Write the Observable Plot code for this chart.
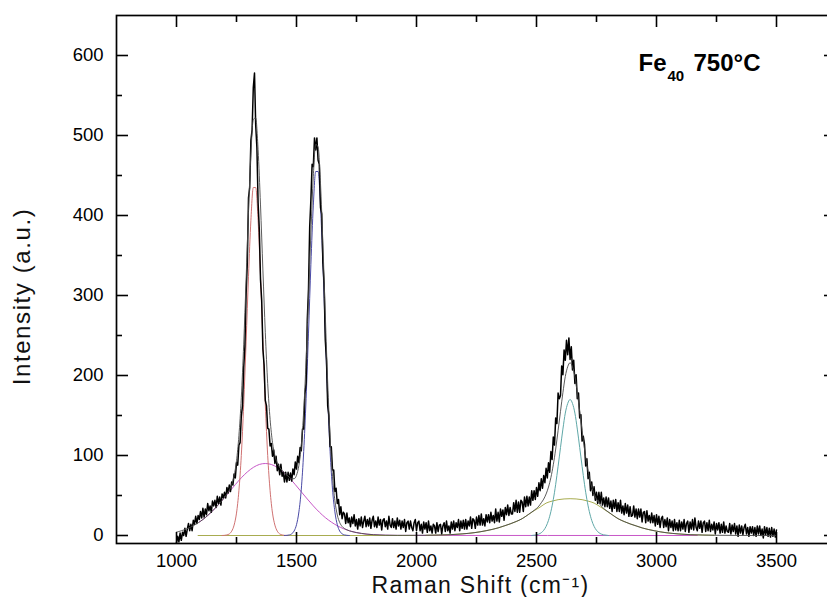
<!DOCTYPE html>
<html><head><meta charset="utf-8">
<script src="https://cdn.jsdelivr.net/npm/d3@7"></script>
<script src="https://cdn.jsdelivr.net/npm/@observablehq/plot@0.6"></script>
<style>
html,body{margin:0;padding:0;background:#fff;overflow:hidden;}
</style>
</head><body><div id="chart"></div>
<script>
// ---- tick values ----
const xMajorTicks = [1000, 1500, 2000, 2500, 3000, 3500];
const xMinorTicks = [1250, 1750, 2250, 2750, 3250];
const yMajorTicks = [0, 100, 200, 300, 400, 500, 600];
const yMinorTicks = [50, 150, 250, 350, 450, 550];

// ---- measured spectrum: 1000..3500 cm-1, one value every 5 cm-1 ----
const shiftStart = 1000, shiftStep = 5;
const intensity = [
  -9,-1,-8,3,-6,4,0,9,-1,8,15,6,14,6,19,14,24,15,25,20,            // 1000
  30,22,34,23,33,26,40,31,37,29,43,37,44,35,49,40,48,38,52,47,     // 1100
  54,47,60,53,63,55,67,63,77,72,91,88,113,116,149,162,210,236,302,340, // 1200
  422,435,494,507,560,578,513,485,416,383,320,294,233,213,169,162,134,133,112,115, // 1300
  99,107,90,99,81,89,76,89,74,79,67,79,67,79,69,78,68,83,76,92,    // 1400
  83,99,91,110,106,133,133,177,190,270,308,386,420,464,461,497,482,497,469,464, // 1500
  410,402,341,315,244,219,162,150,111,111,82,82,55,59,40,45,26,36,21,29, // 1600
  27,15,28,16,22,11,23,15,26,12,20,8,21,12,23,10,18,24,11,20,      // 1700
  12,22,9,19,24,11,18,10,23,13,20,7,19,21,11,18,8,24,13,10,        // 1800
  21,10,18,8,22,12,19,8,18,10,20,5,16,18,8,18,10,6,16,20,          // 1900
  6,16,18,6,14,3,17,8,16,4,18,6,12,3,14,12,3,16,5,13,              // 2000
  14,2,12,16,5,18,6,12,3,17,8,18,6,16,10,20,6,18,9,19,             // 2100
  8,20,8,18,12,23,9,21,19,9,23,13,25,13,27,13,21,12,26,17,         // 2200
  26,16,29,18,25,16,33,18,29,17,33,24,32,19,35,26,38,25,35,27,     // 2300
  27,41,30,44,29,42,29,44,42,30,48,36,49,37,48,38,56,44,56,45,     // 2400
  60,49,66,56,71,59,75,66,84,72,91,79,105,95,123,113,147,140,178,171, // 2500
  175,212,201,232,219,244,226,247,220,236,207,219,190,201,171,178,147,151,118,124, // 2600
  114,87,96,71,79,56,67,50,61,44,54,40,54,40,54,38,47,36,48,36,    // 2700
  47,34,43,30,44,34,45,30,41,30,44,28,37,26,40,28,38,24,36,24,     // 2800
  25,37,23,33,21,33,23,33,17,29,30,16,31,18,25,16,28,16,25,12,     // 2900
  26,14,24,10,21,24,10,20,11,22,6,20,10,18,6,20,7,16,6,19,         // 3000
  6,17,8,20,5,15,18,4,17,8,20,7,22,10,6,18,9,18,4,16,              // 3100
  18,5,16,6,19,5,14,7,17,2,15,7,16,3,14,4,17,3,12,5,               // 3200
  4,15,2,13,5,15,2,12,-1,13,3,12,1,10,14,2,10,-1,11,3,             // 3300
  11,0,10,-1,12,2,12,0,8,-3,11,1,10,-1,9,-2,10,-1,8,-2,7           // 3400..3500
];

// ---- cumulative fit ----
const fitShift = [1000,1010,1020,1030,1040,1050,1060,1070,1080,1090,1100,1110,1120,1130,1140,1150,1160,1170,1180,1190,
  1200,1210,1220,1230,1240,1250,1260,1270,1280,1290,1300,1310,1320,1330,1340,1350,1360,1370,1380,1390,
  1400,1410,1420,1430,1440,1450,1460,1470,1480,1490,1500,1510,1520,1530,1540,1550,1560,1570,1580,1590,
  1600,1610,1620,1630,1640,1650,1660,1670,1680,1690,1700,1710,1720,1730,1740,1750,1770,1790,1820,1870,
  1920,1940,2040,2090,2140,2190,2240,2290,2340,2365,2390,2415,2440,2465,2490,2500,2510,2520,2530,2540,
  2550,2560,2570,2580,2590,2600,2610,2620,2630,2640,2650,2660,2670,2680,2690,2700,2710,2720,2730,2740,
  2750,2760,2770,2780,2790,2815,2840,2865,2890,2915,2940,2990,3040,3090,3140,3190,3240,3340,3500];
const fitIntensity = [4.3,5.0,5.9,6.9,8.0,9.2,10.6,12.2,13.9,15.8,17.8,20.0,22.4,25.0,27.8,30.7,33.8,37.0,40.3,43.8,
  47.6,51.7,56.6,63.6,74.8,93.4,124.8,172.1,239.2,320.1,404.7,477.1,520.1,521.9,482.2,413.2,331.8,254,189.8,145.2,
  116.2,99.9,90.5,85.1,81.4,78.3,75.4,72.8,70.9,71.0,75.3,87.7,112.6,156,218.4,296.8,379.3,449,488.8,485.7,
  439.8,364,275.4,191,122.8,73.8,43.4,25.7,16.2,11.3,8.7,7.1,5.9,5.0,4.3,3.6,2.6,1.8,1.0,0.4,
  0.2,0.2,0.3,0.6,1.0,2.0,3.5,6,9.5,12,14.5,17.5,21,26,31.4,33.8,36.8,41,45.5,51.9,
  60.6,72.5,88.4,108.1,131.3,155.2,178.5,198.8,211,216,211,198.8,178.5,155.2,131.3,108.1,88.4,72.5,60.6,51.9,
  45.5,41,36.8,33.8,31.4,26,21,17.5,14.5,12,9.5,6,3.5,2,1,0.6,0.3,0.1,0];

// ---- fitted components ----
const dShift = [1190,1200,1210,1220,1230,1240,1250,1260,1270,1280,1290,1300,1310,1320,1330,1340,1350,1360,1370,1380,1390,1400,1410,1420,1430,1440,1450,1460];
const dIntensity = [0,0.2,0.7,2,5.4,13,28,56,100,164,242,324,394,435,435,394,324,242,164,100,56,28,13,5.4,2,0.7,0.2,0];

const gShift = [1450,1460,1470,1480,1490,1500,1510,1520,1530,1540,1550,1560,1570,1580,1590,1600,1610,1620,1630,1640,1650,1660,1670,1680,1690,1700,1710,1720];
const gIntensity = [0,0.2,0.7,2.1,5.6,13.5,29.5,58,105,171,253,339,412,455,455,412,339,253,171,105,58,29.5,13.5,5.6,2.1,0.7,0.2,0];

const d3Shift = [1095,1120,1145,1170,1195,1220,1245,1270,1295,1320,1345,1370,1395,1420,1445,1470,1495,1520,1545,1570,1595,1620,1645,1670,1695,1720,1745,1770,1820,1870,1920,3170];
const d3Intensity = [16.8,22.4,29.2,37.0,45.6,54.6,63.6,72.1,79.4,85.1,88.8,90,88.8,85.1,79.4,72.1,63.6,54.6,45.6,37.0,29.2,22.4,16.8,12.2,8.6,5.9,4.0,2.6,1.0,0.35,0.1,0];

const g2dShift = [2480,2490,2500,2510,2520,2530,2540,2550,2560,2570,2580,2590,2600,2610,2620,2630,2640,2650,2660,2670,2680,2690,2700,2710,2720,2730,2740,2750,2760,2770,2780,2790,2800];
const g2dIntensity = [0,0.4,0.8,1.8,3.5,6.5,11.4,19,30,45,64,86.5,110,133,153,165,170,165,153,133,110,86.5,64,45,30,19,11.4,6.5,3.5,1.8,0.8,0.4,0];

const broadShift = [1090,1990,2000,2040,2140,2190,2240,2290,2340,2390,2440,2465,2490,2515,2540,2565,2590,2615,2640,2665,2690,2715,2740,2765,2790,2815,2840,2865,2890,2915,2940,2990,3040,3090,3140,3190,3240];
const broadIntensity = [0,0,null,0.3,1.0,2.0,3.5,6,9.5,14.5,21,26,31,35.5,40.5,43,44.8,45.7,46,45.7,44.8,43,40.5,36,31,26,21,17.5,14.5,12,9.5,6,3.5,2,1,0.6,0.3];

const zip = (xs, ys) => xs.map((x, i) => ({x, y: ys[i]}));
const measured = intensity.map((y, i) => ({x: shiftStart + i * shiftStep, y}));

const W = 827, H = 597, mL = 116, mR = -9, mT = 15, mB = 54;
const plotW = W - mL - mR, plotH = H - mT - mB;
const font = "'Liberation Sans', Arial, Helvetica, sans-serif";
const ink = "black";

const chart = Plot.plot({
  width: W, height: H,
  marginLeft: mL, marginRight: mR, marginTop: mT, marginBottom: mB,
  style: {fontFamily: font, fontSize: "18px", background: "white", color: ink},
  x: {domain: [750, 3750]},
  y: {domain: [-10, 650]},
  marks: [
    Plot.line(zip(d3Shift, d3Intensity), {x: "x", y: "y", stroke: "#c858c8", strokeWidth: 1, curve: "monotone-x"}),
    Plot.line(zip(broadShift, broadIntensity), {x: "x", y: "y", stroke: "#a8ac50", strokeWidth: 1, curve: "monotone-x"}),
    Plot.line(zip(dShift, dIntensity), {x: "x", y: "y", stroke: "#d07272", strokeWidth: 1, curve: "monotone-x"}),
    Plot.line(zip(gShift, gIntensity), {x: "x", y: "y", stroke: "#4a4aa6", strokeWidth: 1, curve: "monotone-x"}),
    Plot.line(zip(g2dShift, g2dIntensity), {x: "x", y: "y", stroke: "#5fa8a8", strokeWidth: 1, curve: "monotone-x"}),
    Plot.line(measured, {x: "x", y: "y", stroke: "#000", strokeWidth: 1.5, clip: true}),
    Plot.line(zip(fitShift, fitIntensity), {x: "x", y: "y", stroke: "#4a4a4a", strokeWidth: 0.9, curve: "monotone-x"}),
    Plot.frame({stroke: ink, strokeWidth: 1.7}),
    Plot.ruleX(xMajorTicks, {insetTop: plotH - 11, stroke: ink, strokeWidth: 1.6}),
    Plot.ruleX(xMajorTicks, {insetBottom: plotH - 12, stroke: ink, strokeWidth: 1.6}),
    Plot.ruleX(xMinorTicks, {insetTop: plotH - 6, stroke: ink, strokeWidth: 1.6}),
    Plot.ruleX(xMinorTicks, {insetBottom: plotH - 7, stroke: ink, strokeWidth: 1.6}),
    Plot.ruleY(yMajorTicks, {insetRight: plotW - 12, stroke: ink, strokeWidth: 1.6}),
    Plot.ruleY(yMajorTicks, {insetLeft: plotW - 12, stroke: ink, strokeWidth: 1.6}),
    Plot.ruleY(yMinorTicks, {insetRight: plotW - 6, stroke: ink, strokeWidth: 1.6}),
    Plot.ruleY(yMinorTicks, {insetLeft: plotW - 6, stroke: ink, strokeWidth: 1.6}),
    Plot.axisX({ticks: xMajorTicks, tickSize: 0, tickPadding: 10, tickFormat: "d", label: null, fontSize: 18.5}),
    Plot.axisY({ticks: yMajorTicks, tickSize: 0, tickPadding: 13, tickFormat: "d", label: null, fontSize: 18.5}),
    Plot.text(["Raman Shift (cm\u207B\u00B9)"], {frameAnchor: "bottom", textAnchor: "middle", lineAnchor: "bottom", dx: 4, dy: 49, fontSize: 23, fill: "#111"}),
    Plot.text(["Intensity (a.u.)"], {frameAnchor: "left", textAnchor: "middle", rotate: -90, dx: -94, dy: 17, fontSize: 24, fill: "#111"}),
    Plot.text(["Fe"], {frameAnchor: "top-left", textAnchor: "start", lineAnchor: "bottom", dx: 522, dy: 55.5, fontSize: 24, fontWeight: "bold"}),
    Plot.text(["40"], {frameAnchor: "top-left", textAnchor: "start", lineAnchor: "bottom", dx: 551, dy: 65, fontSize: 15, fontWeight: "bold"}),
    Plot.text(["750°C"], {frameAnchor: "top-left", textAnchor: "start", lineAnchor: "bottom", dx: 577, dy: 55.5, fontSize: 24, fontWeight: "bold"})
  ]
});

d3.select(chart).selectAll("text").each(function () {
  if (this.textContent === "Intensity (a.u.)") this.setAttribute("letter-spacing", "1.6");
  if (this.textContent.startsWith("Raman Shift")) this.setAttribute("letter-spacing", "1.3");
});
document.getElementById("chart").appendChild(chart);
</script>
</body></html>
